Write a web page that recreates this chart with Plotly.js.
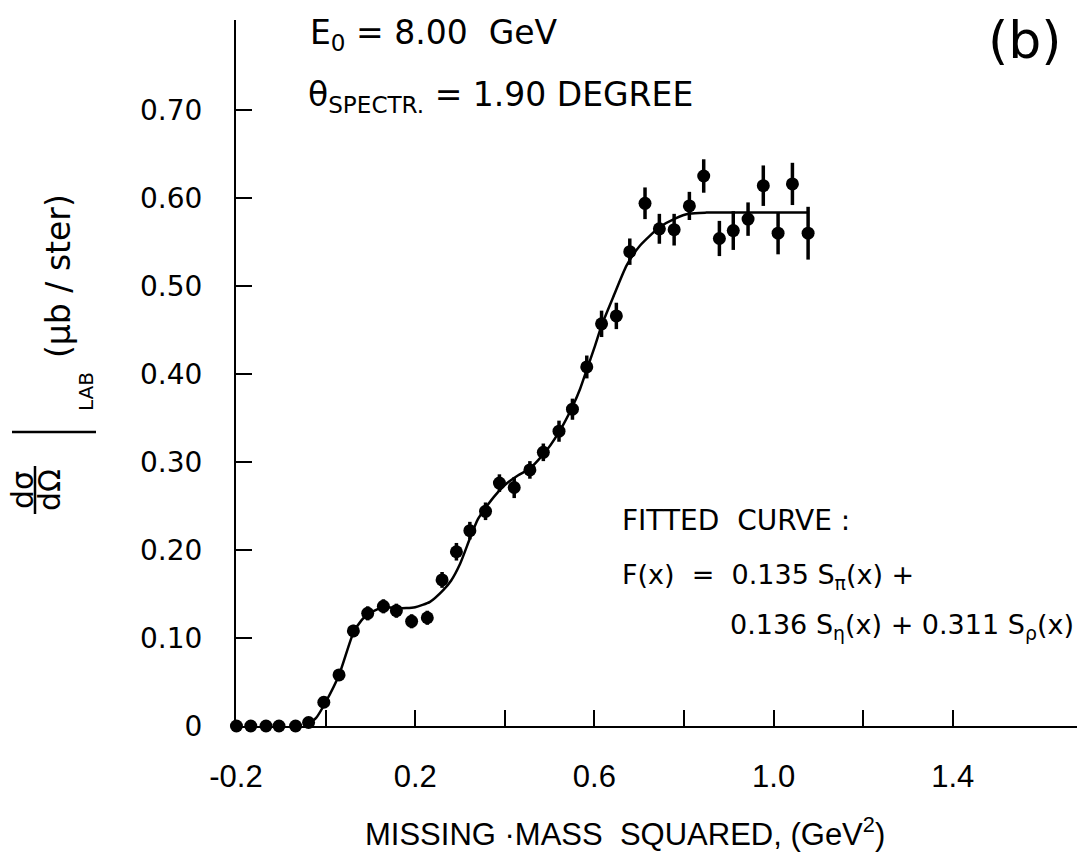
<!DOCTYPE html>
<html>
<head>
<meta charset="utf-8">
<script src="https://cdn.plot.ly/plotly-3.0.1.min.js"></script>
<style>
html,body{margin:0;padding:0;background:#fff;}
#chart{width:1081px;height:855px;}
</style>
</head>
<body>
<div id="chart"></div>
<script>
// ---- data ----
var massSq = [-0.199,-0.167,-0.133,-0.104,-0.067,-0.038,-0.004,0.030,0.062,0.094,0.129,0.158,0.192,0.227,0.260,0.292,0.322,0.357,0.388,0.421,0.456,0.486,0.521,0.551,0.583,0.616,0.649,0.679,0.713,0.745,0.778,0.812,0.844,0.879,0.910,0.943,0.977,1.010,1.042,1.077];
var crossSection = [0,0,0,0,0,0.004,0.027,0.058,0.108,0.128,0.136,0.131,0.119,0.123,0.166,0.198,0.222,0.244,0.276,0.271,0.291,0.311,0.335,0.360,0.408,0.457,0.466,0.539,0.594,0.565,0.564,0.591,0.625,0.554,0.563,0.576,0.614,0.560,0.616,0.560];
var crossErr = [0.003,0.003,0.003,0.003,0.003,0.004,0.005,0.006,0.007,0.008,0.008,0.008,0.008,0.008,0.009,0.010,0.010,0.010,0.010,0.012,0.010,0.010,0.012,0.012,0.013,0.015,0.015,0.015,0.018,0.017,0.018,0.016,0.019,0.020,0.022,0.019,0.023,0.024,0.024,0.030];

var fitX = [-0.037,-0.02,0.0,0.03,0.062,0.08,0.094,0.128,0.158,0.18,0.2,0.233,0.262,0.28,0.3,0.322,0.34,0.36,0.38,0.404,0.43,0.456,0.493,0.53,0.553,0.568,0.583,0.6,0.616,0.642,0.672,0.702,0.746,0.78,0.8125,0.85,1.077];
var fitY = [0.002,0.010,0.027,0.058,0.106,0.120,0.127,0.135,0.134,0.134,0.135,0.141,0.154,0.165,0.184,0.213,0.235,0.250,0.263,0.2755,0.285,0.2925,0.313,0.342,0.365,0.383,0.405,0.430,0.455,0.4875,0.5235,0.546,0.567,0.5766,0.5823,0.5834,0.5834];

var xTickVals = [-0.2,0,0.2,0.4,0.6,0.8,1.0,1.2,1.4];
var xTickText = ['-0.2','','0.2','','0.6','','1.0','','1.4'];
var yTickVals = [0,0.1,0.2,0.3,0.4,0.5,0.6,0.7];
var yTickText = ['0','0.10','0.20','0.30','0.40','0.50','0.60','0.70'];

// ---- layout geometry ----
var L = 236, R = 4, T = 20, B = 129;
var W = 1081 - L - R, H = 855 - T - B;
function px(x){ return (x - L) / W; }
function py(y){ return (855 - B - y) / H; }

var txtFont = 'DejaVu Sans, Liberation Sans, sans-serif';

var traces = [
  {
    x: fitX, y: fitY, type: 'scatter', mode: 'lines', cliponaxis: false,
    line: {color: '#000', width: 2.5, shape: 'spline', smoothing: 0.6},
    hoverinfo: 'skip'
  },
  {
    x: massSq, y: crossSection, type: 'scatter', mode: 'markers', cliponaxis: false,
    marker: {color: '#000', size: 13},
    error_y: {type: 'data', array: crossErr, visible: true, color: '#000', thickness: 3.5, width: 0}
  }
];

function ann(text, x, y, size, opts){
  var a = {text: text, x: px(x), y: py(y), xref: 'paper', yref: 'paper', showarrow: false,
           font: {family: txtFont, size: size, color: '#000'}, xanchor: 'left', yanchor: 'middle'};
  for (var k in (opts||{})) a[k] = opts[k];
  return a;
}

var annotations = [
  ann('E<sub>0</sub> = 8.00  GeV', 308, 34, 33),
  ann('θ<sub>SPECTR.</sub> = 1.90 DEGREE', 306, 96, 33),
  ann('(b)', 1025, 40, 52, {xanchor: 'center'}),
  ann('FITTED  CURVE :', 620, 520, 28),
  ann('F(x)  =  0.135 S<sub>π</sub>(x) +', 620, 576, 27),
  ann('0.136 S<sub>η</sub>(x) + 0.311 S<sub>ρ</sub>(x)', 728, 626, 27),
  ann('MISSING ·MASS  SQUARED, (GeV<sup>2</sup>)', 625, 832, 31, {xanchor: 'center', font: {family: 'Liberation Sans, Arial, sans-serif', size: 31, color: '#000'}}),
  // y title pieces
  ann('dσ', 22, 490, 30, {xanchor: 'center', textangle: -90}),
  ann('dΩ', 49, 490, 30, {xanchor: 'center', textangle: -90}),
  ann('LAB', 86, 392, 20, {xanchor: 'center', textangle: -90}),
  ann('(μb / ster)', 58, 276, 33, {xanchor: 'center', textangle: -90})
];

var shapes = [
  {type: 'line', xref: 'paper', yref: 'paper', x0: px(35), x1: px(35), y0: py(466), y1: py(514), line: {color: '#000', width: 2.5}},
  {type: 'line', xref: 'paper', yref: 'paper', x0: px(12), x1: px(96), y0: py(432), y1: py(432), line: {color: '#000', width: 2.5}}
];

var layout = {
  width: 1081, height: 855,
  margin: {l: L, r: R, t: T, b: B, pad: 0},
  paper_bgcolor: '#fff', plot_bgcolor: '#fff',
  showlegend: false,
  xaxis: {
    range: [-0.2, -0.2 + W / 448], showgrid: false, zeroline: false,
    showline: true, linecolor: '#000', linewidth: 2,
    ticks: 'inside', ticklen: 16, tickwidth: 2, tickcolor: '#000',
    tickvals: xTickVals, ticktext: xTickText,
    tickfont: {family: 'Liberation Sans, Arial, sans-serif', size: 31, color: '#000'},
    ticklabelstandoff: 22
  },
  yaxis: {
    range: [0, H / 880], showgrid: false, zeroline: false,
    showline: true, linecolor: '#000', linewidth: 2,
    ticks: 'inside', ticklen: 16, tickwidth: 2, tickcolor: '#000',
    tickvals: yTickVals, ticktext: yTickText,
    tickfont: {family: txtFont, size: 28, color: '#000'},
    ticklabelstandoff: 26
  },
  annotations: annotations,
  shapes: shapes
};

Plotly.newPlot('chart', traces, layout, {staticPlot: true, displayModeBar: false});
</script>
</body>
</html>
